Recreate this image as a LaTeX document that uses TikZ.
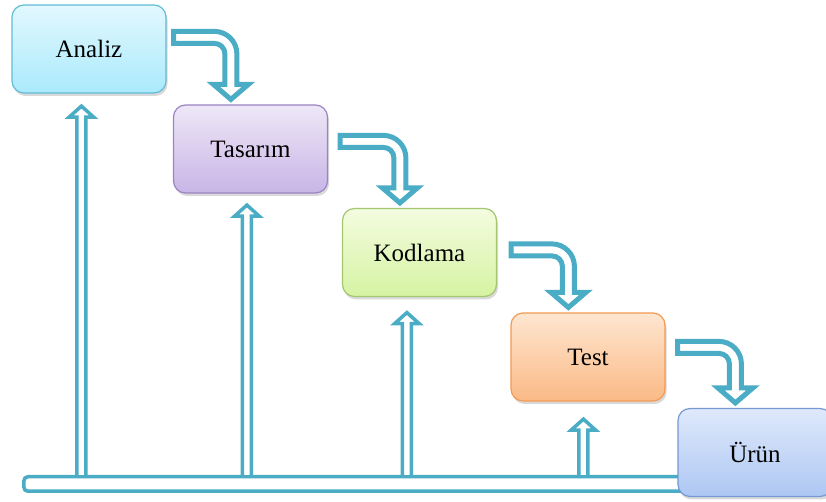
\documentclass[tikz,border=0pt]{standalone}
\usepackage{fontspec}
\setmainfont{Liberation Serif}
\usetikzlibrary{calc,shadows}

\definecolor{okmavi}{HTML}{4BACC6}
\definecolor{analizust}{HTML}{E2F8FE}
\definecolor{analizalt}{HTML}{AAEAFC}
\definecolor{analizcer}{HTML}{62BCD6}
\definecolor{tasarimust}{HTML}{EEE7F7}
\definecolor{tasarimalt}{HTML}{C8B5E6}
\definecolor{tasarimcer}{HTML}{9B84C4}
\definecolor{kodust}{HTML}{F4FCE0}
\definecolor{kodalt}{HTML}{D5F3A2}
\definecolor{kodcer}{HTML}{A3C66F}
\definecolor{testust}{HTML}{FEE6D0}
\definecolor{testalt}{HTML}{FBBA86}
\definecolor{testcer}{HTML}{F29A55}
\definecolor{urunust}{HTML}{DFE9FB}
\definecolor{urunalt}{HTML}{ADC7F3}
\definecolor{uruncer}{HTML}{7699D3}

\tikzset{
  kutu/.style={rectangle, rounded corners=12pt, minimum width=154pt, minimum height=88pt,
    inner sep=0pt, line width=1.2pt, font=\fontsize{25}{29}\selectfont,
    drop shadow={opacity=0.3, shadow xshift=1.5pt, shadow yshift=-3pt}},
  kivrik/.style={draw=okmavi, fill=white, line width=5pt},
  dik/.style={draw=okmavi, fill=white, line width=3.5pt},
}

% curved block arrow: #1 left end of the shaft, #2 tip
\newcommand{\kivrikok}[2]{%
  \draw[kivrik] let \p1=(#1), \p2=(#2) in
    (\x1,\y1+6pt) -- (\x2-16.5pt,\y1+6pt) arc[start angle=90, end angle=0, radius=22.5pt]
    -- (\x2+6pt,\y2+15pt) -- (\x2+17.5pt,\y2+15pt) -- (\x2,\y2) -- (\x2-17.5pt,\y2+15pt)
    -- (\x2-6pt,\y2+15pt) -- (\x2-6pt,\y1-16.5pt) arc[start angle=0, end angle=90, radius=10.5pt]
    -- (\x1,\y1-6pt) -- cycle;}

% straight block arrow: #1 foot on the base, #2 tip
\newcommand{\dikok}[2]{%
  \draw[dik] let \p1=(#1), \p2=(#2) in
    (\x2-4.5pt,\y1) -- (\x2-4.5pt,\y2-11pt) -- (\x2-12.25pt,\y2-11pt) -- (\x2,\y2)
    -- (\x2+12.25pt,\y2-11pt) -- (\x2+4.5pt,\y2-11pt) -- (\x2+4.5pt,\y1);}

\begin{document}
\begin{tikzpicture}[x=1pt,y=1pt]
\clip (0,0) rectangle (826,502);

\node[draw=okmavi, fill=white, line width=3.5pt, rounded corners=4pt,
  minimum width=736pt, minimum height=14.5pt, inner sep=0pt] (taban) at (391.9,18) {};

\node[kutu, draw=analizcer, top color=analizust, bottom color=analizalt] (analiz) at (89,453) {Analiz};
\node[kutu, draw=tasarimcer, top color=tasarimust, bottom color=tasarimalt] (tasarim) at (250.5,353) {Tasarım};
\node[kutu, draw=kodcer, top color=kodust, bottom color=kodalt] (kodlama) at (419.5,249.5) {Kodlama};
\node[kutu, draw=testcer, top color=testust, bottom color=testalt] (test) at (588,145) {Test};

% arrows from the base up to each step
\foreach \k/\dx/\gap in {analiz/70/12.5, tasarim/74/11.5, kodlama/65/15.5, test/73/17.5}
  \dikok{taban.north}{$(\k.south west)+(\dx,-\gap)$};

\node[kutu, draw=uruncer, top color=urunust, bottom color=urunalt] (urun) at (755,49.5) {Ürün};

% arrows from one step to the next
\foreach \a/\b/\dx/\dy in {analiz/tasarim/7/33, tasarim/kodlama/12/37, kodlama/test/14/42, test/urun/12/35}
  \kivrikok{$(\a.north east)+(\dx,-\dy)$}{$(\b.north west)+(58,5)$};
\end{tikzpicture}
\end{document}
